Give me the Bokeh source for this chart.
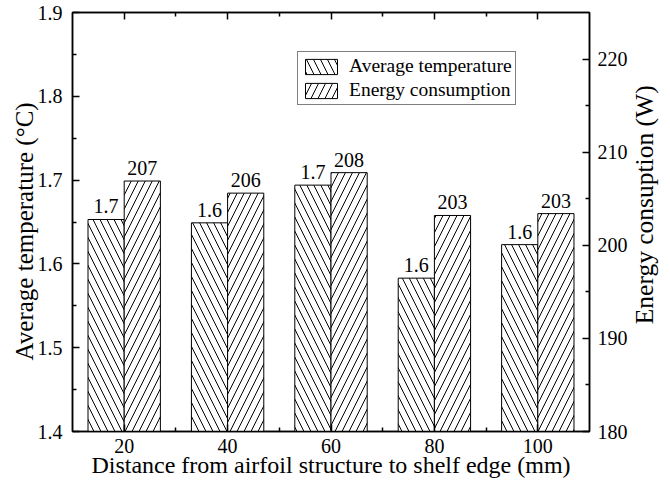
import math
from bokeh.plotting import figure
from bokeh.layouts import row
from bokeh.models import ColumnDataSource, Range1d, LinearAxis, FixedTicker, Legend, LegendItem
from bokeh.transform import dodge
from bokeh.core.properties import value
from bokeh.embed import file_html
from bokeh.resources import INLINE

# ---- data ----
distance = [20, 40, 60, 80, 100]
avg_temp = [1.653, 1.649, 1.694, 1.583, 1.623]
energy = [206.9, 205.6, 207.8, 203.2, 203.4]
temp_labels = ["1.7", "1.6", "1.7", "1.6", "1.6"]
energy_labels = ["207", "206", "208", "203", "203"]

# tick values
x_ticks = [20, 40, 60, 80, 100]
x_minor = [30, 50, 70, 90]
temp_ticks = [1.4, 1.5, 1.6, 1.7, 1.8, 1.9]
temp_minor = [1.45, 1.55, 1.65, 1.75, 1.85]
energy_ticks = [180, 190, 200, 210, 220]
energy_minor = [185, 195, 205, 215]

x_title = "Distance from airfoil structure to shelf edge (mm)"
y_left_title = "Average temperature (°C)"
y_right_title = "Energy consuption (W)"

FONT = "Liberation Serif"

src = ColumnDataSource(dict(distance=distance, temp=avg_temp, energy=energy,
                            tl=temp_labels, el=energy_labels))

p = figure(width=630, height=487, output_backend="svg", toolbar_location=None,
           x_range=Range1d(10, 110), y_range=Range1d(1.4, 1.9),
           min_border_left=72, min_border_right=38, min_border_top=12, min_border_bottom=56)
p.extra_y_ranges = {"energy": Range1d(180, 225)}
p.grid.visible = False
p.outline_line_color = "black"
p.outline_line_width = 1.5
p.background_fill_color = "white"
p.border_fill_color = "white"

r1 = p.vbar(x=dodge("distance", -3.5, range=p.x_range), top="temp", bottom=1.4, width=7, source=src,
            fill_color="white", line_color="black", line_width=1,
            hatch_pattern="\\", hatch_color="black", hatch_scale=14, hatch_weight=1)
r2 = p.vbar(x=dodge("distance", 3.5, range=p.x_range), top="energy", bottom=180, width=7, source=src,
            y_range_name="energy",
            fill_color="white", line_color="black", line_width=1,
            hatch_pattern="/", hatch_color="black", hatch_scale=14, hatch_weight=1)

p.text(x=dodge("distance", -3.5, range=p.x_range), y="temp", text="tl", source=src,
       text_align="center", text_baseline="bottom", y_offset=-6,
       text_font=value(FONT), text_font_size="20px", text_color="black")
p.text(x=dodge("distance", 3.5, range=p.x_range), y="energy", text="el", source=src,
       y_range_name="energy",
       text_align="center", text_baseline="bottom", y_offset=-6,
       text_font=value(FONT), text_font_size="20px", text_color="black")


def style(ax, label_size="20px", title_size="24px"):
    ax.major_tick_in = 7
    ax.major_tick_out = 0
    ax.minor_tick_in = 4
    ax.minor_tick_out = 0
    ax.axis_line_width = 1.5
    ax.major_tick_line_width = 1.5
    ax.minor_tick_line_width = 1.5
    ax.major_label_text_font = FONT
    ax.major_label_text_font_size = label_size
    ax.major_label_text_color = "black"
    ax.axis_label_text_font = FONT
    ax.axis_label_text_font_size = title_size
    ax.axis_label_text_font_style = "normal"
    ax.axis_label_text_color = "black"


xb = p.xaxis[0]
xb.ticker = FixedTicker(ticks=x_ticks, minor_ticks=x_minor)
xb.axis_label = x_title
style(xb, title_size="24px")
xb.major_label_standoff = 7
xb.axis_label_standoff = -4

yl = p.yaxis[0]
yl.ticker = FixedTicker(ticks=temp_ticks, minor_ticks=temp_minor)
# trailing no-break spaces nudge the centred title slightly down, as in the reference
yl.axis_label = y_left_title + "\u00a0\u00a0\u00a0"
style(yl, title_size="25px")
yl.major_label_standoff = 10
yl.axis_label_standoff = -3

xt = LinearAxis(ticker=FixedTicker(ticks=x_ticks, minor_ticks=x_minor))
style(xt)
xt.major_label_overrides = {t: "" for t in x_ticks}
xt.major_label_standoff = 0
p.add_layout(xt, "above")

yr = LinearAxis(y_range_name="energy", ticker=FixedTicker(ticks=energy_ticks, minor_ticks=energy_minor))
style(yr)
yr.major_label_standoff = 8
p.add_layout(yr, "right")

legend = Legend(items=[LegendItem(label="Average temperature", renderers=[r1]),
                       LegendItem(label="Energy consumption", renderers=[r2])],
                location=(225, 326), glyph_width=40, glyph_height=19, label_height=21,
                padding=3, spacing=2,
                label_standoff=8, margin=0, border_line_color="black", border_line_width=1,
                label_text_font=FONT, label_text_font_size="19.5px", label_text_color="black",
                background_fill_alpha=1)
p.add_layout(legend)

# narrow strip on the right that carries the right-hand title, reading bottom-to-top
q = figure(width=40, height=487, output_backend="svg", toolbar_location=None,
           x_range=Range1d(0, 1), y_range=Range1d(0, 1),
           x_axis_location=None, y_axis_location=None, min_border=0)
q.grid.visible = False
q.outline_line_color = None
q.background_fill_color = "white"
q.border_fill_color = "white"
q.text(x=[0.36], y=[0.541], text=[y_right_title], angle=math.pi / 2,
       text_align="center", text_baseline="middle",
       text_font=value(FONT), text_font_size="25.5px", text_color="black")

layout = row(p, q, spacing=0)
open("out.html", "w").write(file_html(layout, INLINE))
